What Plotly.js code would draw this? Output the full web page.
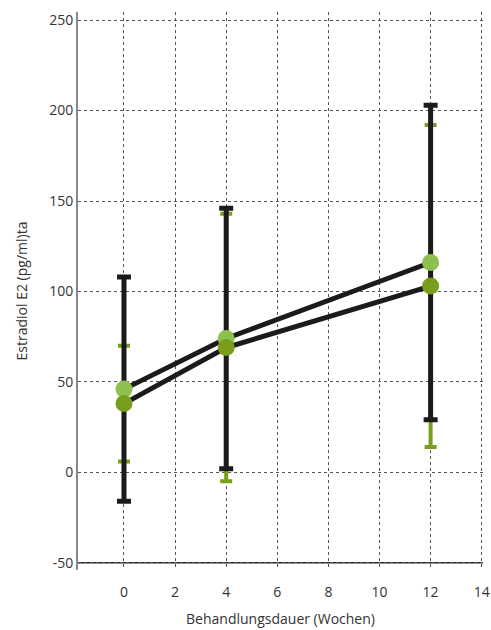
<!DOCTYPE html>
<html>
<head>
<meta charset="utf-8">
<script src="https://cdn.plot.ly/plotly-3.0.1.min.js"></script>
<style>html,body{margin:0;padding:0;background:#fff}#chart{width:491px;height:630px}</style>
</head>
<body>
<div id="chart"></div>
<script>
const weeks = [0, 4, 12];
const seriesA = [46, 74, 116];      // light green
const errA = [62, 72, 87];          // black error bars
const seriesB = [38, 69, 103];      // dark green
const errB = [32, 74, 89];          // green error bars
const xTicks = [0, 2, 4, 6, 8, 10, 12, 14];
const yTicks = [-50, 0, 50, 100, 150, 200, 250];

const black = '#1b1b1b';
const lightGreen = '#8dc04f';
const darkGreen = '#789e1c';

const traces = [
  {x: weeks, y: seriesB, mode: 'markers', marker: {size: 1, opacity: 0},
   error_y: {type: 'data', array: errB, visible: true, color: darkGreen, thickness: 4, width: 6},
   hoverinfo: 'skip', showlegend: false},
  {x: weeks, y: seriesA, mode: 'markers', marker: {size: 1, opacity: 0},
   error_y: {type: 'data', array: errA, visible: true, color: black, thickness: 5, width: 7},
   hoverinfo: 'skip', showlegend: false},
  {x: weeks, y: seriesA, mode: 'lines', line: {color: black, width: 5}, showlegend: false},
  {x: weeks, y: seriesB, mode: 'lines', line: {color: black, width: 5}, showlegend: false},
  {x: weeks, y: seriesA, mode: 'markers', marker: {color: lightGreen, size: 17}, showlegend: false},
  {x: weeks, y: seriesB, mode: 'markers', marker: {color: darkGreen, size: 17}, showlegend: false}
];

const layout = {
  width: 491, height: 630,
  margin: {l: 78, r: 8, t: 12, b: 60},
  paper_bgcolor: '#fff', plot_bgcolor: '#fff',
  font: {family: 'Open Sans, Noto Sans, sans-serif', size: 14, color: '#333'},
  showlegend: false,
  xaxis: {
    range: [-1.8, 14.05], tickvals: xTicks, ticktext: xTicks.map(String),
    showgrid: true, gridcolor: '#555', griddash: 'dot', gridwidth: 1,
    zeroline: false, showline: false, ticks: '',
    ticklabelstandoff: 12, ticklabeloverflow: 'allow',
    tickfont: {size: 14, color: '#333'},
    title: {text: 'Behandlungsdauer (Wochen)', font: {size: 14, color: '#333'}, standoff: 14}
  },
  yaxis: {
    range: [-54, 254.5], tickvals: yTicks, ticktext: yTicks.map(String),
    showgrid: true, gridcolor: '#555', griddash: 'dot', gridwidth: 1,
    zeroline: false, showline: true, linecolor: '#888', linewidth: 2, ticks: '',
    tickfont: {size: 14, color: '#333'},
    title: {text: 'Estradiol E2 (pg/ml)ta', font: {size: 14, color: '#333'}, standoff: 18}
  },
  shapes: [
    {type: 'line', xref: 'paper', yref: 'y', x0: 0, x1: 1, y0: -50, y1: -50,
     line: {color: '#222', width: 1.5}, layer: 'below'}
  ]
};

Plotly.newPlot('chart', traces, layout, {displayModeBar: false, staticPlot: true});
</script>
</body>
</html>
